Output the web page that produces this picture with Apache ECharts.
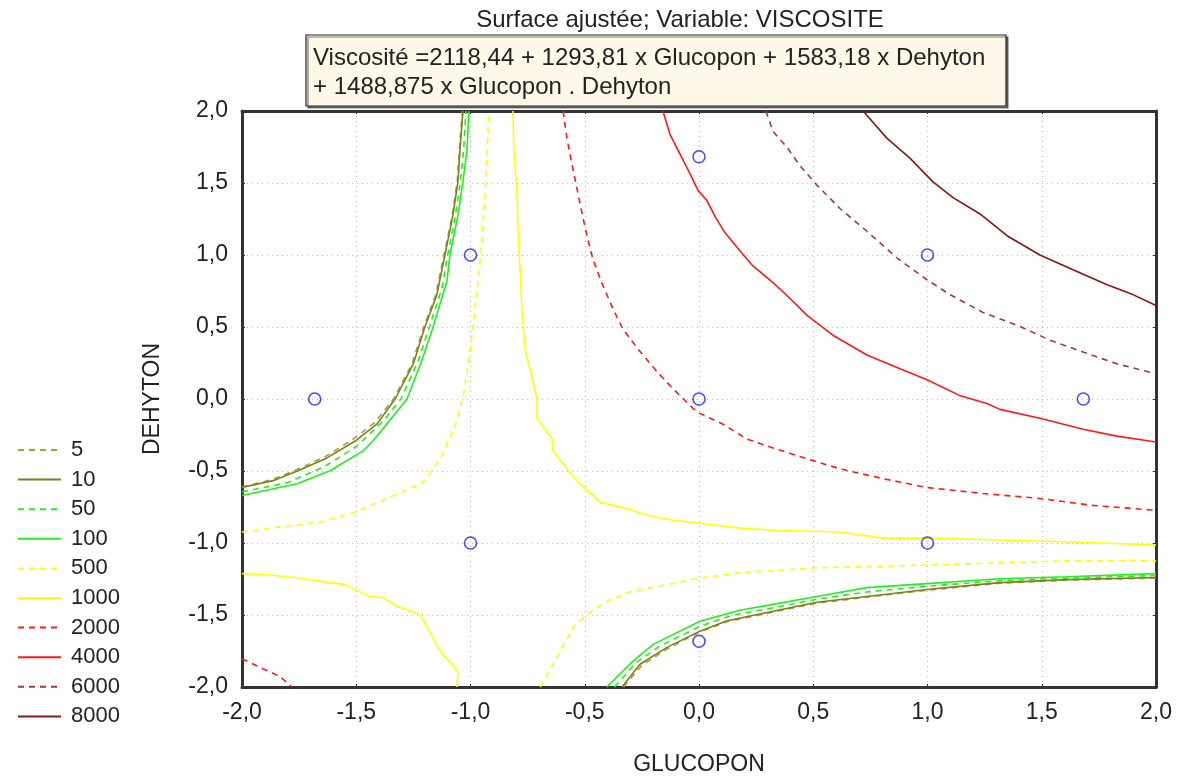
<!DOCTYPE html>
<html>
<head>
<meta charset="utf-8">
<script src="https://cdn.jsdelivr.net/npm/echarts@6/dist/echarts.min.js"></script>
<style>
  html, body { margin: 0; padding: 0; background: #fff; overflow: hidden; }
  #chart { width: 1177px; height: 781px; }
</style>
</head>
<body>
<div id="chart"></div>
<script>
// contour levels as [glucopon, dehyton] points
var levels = ['5', '10', '50', '100', '500', '1000', '2000', '4000', '6000', '8000'];

var c5a = [[-2,-0.61],[-1.87,-0.56],[-1.76,-0.49],[-1.635,-0.4],[-1.515,-0.28],[-1.42,-0.165],[-1.337,0],[-1.256,0.244],[-1.205,0.498],[-1.152,0.725],[-1.116,1.0],[-1.08,1.275],[-1.058,1.51],[-1.049,1.73],[-1.036,2.0]];
var c5b = [[-0.33,-2.0],[-0.25,-1.85],[-0.135,-1.732],[0.004,-1.618],[0.123,-1.546],[0.324,-1.48],[0.516,-1.418],[0.735,-1.376],[0.998,-1.328],[1.317,-1.28],[1.61,-1.258],[2,-1.244]];

var c10a = [[-2,-0.615],[-1.864,-0.567],[-1.755,-0.498],[-1.628,-0.409],[-1.505,-0.292],[-1.41,-0.175],[-1.33,0],[-1.25,0.244],[-1.2,0.498],[-1.147,0.725],[-1.112,1.0],[-1.077,1.275],[-1.055,1.51],[-1.046,1.73],[-1.033,2.0]];
var c10b = [[-0.337,-2.0],[-0.258,-1.842],[-0.14,-1.725],[0.004,-1.612],[0.123,-1.54],[0.324,-1.474],[0.516,-1.412],[0.735,-1.371],[0.998,-1.323],[1.317,-1.275],[1.61,-1.254],[2,-1.24]];

var c50a = [[-2,-0.645],[-1.8,-0.58],[-1.64,-0.47],[-1.5,-0.33],[-1.38,-0.15],[-1.305,0],[-1.23,0.26],[-1.18,0.5],[-1.125,0.77],[-1.1,1.0],[-1.066,1.275],[-1.044,1.51],[-1.03,1.73],[-1.02,2.0]];
var c50b = [[-0.37,-2.0],[-0.275,-1.83],[-0.17,-1.715],[0.004,-1.578],[0.15,-1.5],[0.324,-1.45],[0.516,-1.39],[0.735,-1.34],[0.998,-1.3],[1.317,-1.262],[1.61,-1.244],[2,-1.226]];

var c100a = [[-2,-0.67],[-1.759,-0.588],[-1.615,-0.498],[-1.47,-0.36],[-1.427,-0.292],[-1.339,-0.12],[-1.278,0],[-1.212,0.271],[-1.164,0.498],[-1.103,0.82],[-1.09,1.0],[-1.055,1.275],[-1.033,1.51],[-1.015,1.735],[-1.007,2.0]];
var c100b = [[-0.403,-2.0],[-0.289,-1.82],[-0.2,-1.704],[0.004,-1.543],[0.179,-1.467],[0.324,-1.426],[0.516,-1.371],[0.735,-1.31],[0.998,-1.282],[1.317,-1.248],[1.61,-1.234],[2,-1.213]];

var c500a = [[-2,-0.924],[-1.877,-0.897],[-1.659,-0.855],[-1.505,-0.786],[-1.365,-0.69],[-1.208,-0.58],[-1.133,-0.416],[-1.068,-0.19],[-1.035,0],[-1.015,0.175],[-0.989,0.5],[-0.972,0.76],[-0.955,1.0],[-0.937,1.4],[-0.919,2.0]];
var c500b = [[-0.695,-2.0],[-0.621,-1.79],[-0.551,-1.584],[-0.49,-1.495],[-0.403,-1.405],[-0.315,-1.344],[-0.184,-1.302],[0.004,-1.244],[0.179,-1.206],[0.324,-1.192],[0.516,-1.172],[0.718,-1.165],[1.024,-1.151],[1.317,-1.138],[1.593,-1.124],[2,-1.124]];

var c1000a = [[-0.814,2.0],[-0.81,1.71],[-0.797,1.445],[-0.792,1.17],[-0.783,0.9],[-0.775,0.62],[-0.761,0.345],[-0.74,0.21],[-0.709,0.0],[-0.709,-0.134],[-0.643,-0.278],[-0.639,-0.36],[-0.565,-0.512],[-0.534,-0.567],[-0.433,-0.718],[-0.315,-0.76],[-0.228,-0.807],[-0.114,-0.842],[0.004,-0.863],[0.179,-0.897],[0.324,-0.911],[0.617,-0.924],[0.805,-0.966],[0.998,-0.966],[1.317,-0.979],[1.637,-0.993],[2,-1.014]];
var c1000b = [[-2,-1.213],[-1.891,-1.22],[-1.759,-1.241],[-1.615,-1.275],[-1.549,-1.289],[-1.44,-1.371],[-1.383,-1.378],[-1.322,-1.44],[-1.221,-1.495],[-1.133,-1.749],[-1.055,-1.893],[-1.059,-2.0]];

var c2000a = [[-0.595,2.0],[-0.578,1.81],[-0.556,1.63],[-0.534,1.46],[-0.512,1.29],[-0.49,1.13],[-0.464,0.97],[-0.424,0.8],[-0.376,0.625],[-0.333,0.485],[-0.267,0.347],[-0.184,0.19],[-0.114,0.072],[-0.026,-0.065],[0.004,-0.1],[0.105,-0.175],[0.21,-0.278],[0.324,-0.34],[0.442,-0.4],[0.617,-0.485],[0.805,-0.553],[0.998,-0.615],[1.243,-0.656],[1.492,-0.691],[1.724,-0.739],[2,-0.773]];
var c2000b = [[-2,-1.804],[-1.908,-1.873],[-1.834,-1.928],[-1.781,-2.0]];

var c4000 = [[-0.158,2.0],[-0.127,1.838],[-0.083,1.701],[-0.039,1.564],[-0.004,1.447],[0.035,1.378],[0.07,1.268],[0.114,1.154],[0.179,1.03],[0.236,0.924],[0.324,0.808],[0.385,0.719],[0.473,0.581],[0.53,0.512],[0.586,0.443],[0.735,0.306],[0.88,0.21],[0.998,0.134],[1.14,0.025],[1.26,-0.031],[1.317,-0.072],[1.492,-0.134],[1.681,-0.21],[1.829,-0.258],[2,-0.299]];

var c6000 = [[0.293,2.0],[0.324,1.858],[0.385,1.748],[0.442,1.62],[0.516,1.485],[0.617,1.323],[0.735,1.165],[0.867,0.979],[0.998,0.828],[1.098,0.725],[1.243,0.601],[1.392,0.512],[1.536,0.409],[1.681,0.326],[1.829,0.244],[2,0.175]];

var c8000 = [[0.718,2.0],[0.823,1.81],[0.923,1.673],[1.024,1.508],[1.112,1.398],[1.23,1.285],[1.348,1.134],[1.492,1.0],[1.637,0.897],[1.786,0.794],[1.899,0.725],[2,0.649]];

// design points of the experiment
var designPts = [[-1.682,0],[-1,1],[-1,-1],[0,1.682],[0,0],[0,-1.682],[1,1],[1,-1],[1.682,0]];

var FONT = 'Liberation Sans, Arial, sans-serif';

function contour(name, data, color, dashed) {
    return {
        name: name,
        type: 'line',
        data: data,
        symbol: 'none',
        smooth: false,
        silent: true,
        z: 3,
        lineStyle: { color: color, width: 1.6, type: dashed ? [6, 5] : 'solid' },
        itemStyle: { color: color }
    };
}

var fmt = function (v) { return v.toFixed(1).replace('.', ','); };

var chartDom = document.getElementById('chart');
var myChart = echarts.init(chartDom, null, { width: 1177, height: 781 });

var frameAxis = {
    axisLine: { show: true, onZero: false, lineStyle: { color: '#333', width: 3 } },
    axisTick: { show: true, inside: true, length: 3, lineStyle: { color: '#333' } }
};

var option = {
    animation: false,
    backgroundColor: '#fff',
    textStyle: { fontFamily: FONT },
    grid: { left: 242, top: 111, width: 914, height: 582, show: false },
    legend: {
        orient: 'vertical',
        left: 12,
        top: 434,
        itemWidth: 43,
        itemHeight: 14,
        itemGap: 7.6,
        data: levels,
        selectedMode: false,
        itemStyle: { opacity: 0 },
        textStyle: { fontSize: 22, color: '#222', fontFamily: FONT, lineHeight: 20, padding: [0, 0, 0, 5] }
    },
    xAxis: [{
        type: 'value', min: -2, max: 2, interval: 0.5,
        name: 'GLUCOPON', nameLocation: 'middle', nameGap: 66,
        nameTextStyle: { fontSize: 23, color: '#222' },
        axisLine: frameAxis.axisLine, axisTick: frameAxis.axisTick,
        axisLabel: { fontSize: 23, color: '#222', margin: 14, formatter: fmt },
        splitLine: { show: true, lineStyle: { color: '#bbb', type: [1, 4], width: 1.2 } }
    }, {
        type: 'value', min: -2, max: 2, interval: 0.5, position: 'top',
        axisLine: frameAxis.axisLine, axisTick: frameAxis.axisTick,
        axisLabel: { show: false }, splitLine: { show: false }
    }],
    yAxis: [{
        type: 'value', min: -2, max: 2, interval: 0.5,
        name: 'DEHYTON', nameLocation: 'middle', nameGap: 78, nameRotate: 90,
        nameTextStyle: { fontSize: 23, color: '#222' },
        axisLine: frameAxis.axisLine, axisTick: frameAxis.axisTick,
        axisLabel: { fontSize: 23, color: '#222', margin: 14, formatter: fmt },
        splitLine: { show: true, lineStyle: { color: '#bbb', type: [1, 4], width: 1.2 } }
    }, {
        type: 'value', min: -2, max: 2, interval: 0.5, position: 'right',
        axisLine: frameAxis.axisLine, axisTick: frameAxis.axisTick,
        axisLabel: { show: false }, splitLine: { show: false }
    }],
    graphic: [
        {
            type: 'text', x: 680, y: 8,
            style: { text: 'Surface ajustée; Variable: VISCOSITE', align: 'center', fontSize: 24, fontFamily: FONT, fill: '#222' }
        },
        {
            type: 'rect', shape: { x: 306, y: 35, width: 700, height: 71 },
            style: { fill: '#fdf8e8', stroke: '#222', lineWidth: 1.2, shadowColor: 'rgba(0,0,0,0.5)', shadowOffsetX: 2, shadowOffsetY: 2 },
            z: 10
        },
        {
            type: 'text', x: 313, y: 44, z: 11,
            style: {
                text: 'Viscosité =2118,44 + 1293,81 x Glucopon + 1583,18 x Dehyton\n+ 1488,875 x Glucopon . Dehyton',
                fontSize: 24, lineHeight: 29, fontFamily: FONT, fill: '#222'
            }
        }
    ],
    series: [
        contour('5', c5a, '#a3a33c', true),
        contour('5', c5b, '#a3a33c', true),
        contour('10', c10a, '#7f7f1a', false),
        contour('10', c10b, '#7f7f1a', false),
        contour('50', c50a, '#22ee22', true),
        contour('50', c50b, '#22ee22', true),
        contour('100', c100a, '#22ee22', false),
        contour('100', c100b, '#22ee22', false),
        contour('500', c500a, '#ffff00', true),
        contour('500', c500b, '#ffff00', true),
        contour('1000', c1000a, '#ffff00', false),
        contour('1000', c1000b, '#ffff00', false),
        contour('2000', c2000a, '#ff1a1a', true),
        contour('2000', c2000b, '#ff1a1a', true),
        contour('4000', c4000, '#ff1a1a', false),
        contour('6000', c6000, '#a33a3a', true),
        contour('8000', c8000, '#8a1616', false),
        {
            name: 'points',
            type: 'scatter',
            data: designPts,
            symbol: 'circle',
            symbolSize: 12,
            z: 5,
            itemStyle: { color: 'rgba(255,255,255,0)', borderColor: '#1e1eff', borderWidth: 1.6 }
        }
    ]
};

option && myChart.setOption(option);
</script>
</body>
</html>
